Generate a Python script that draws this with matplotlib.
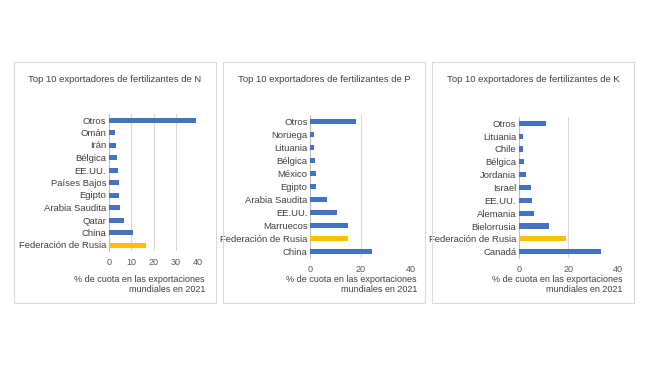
import matplotlib
matplotlib.use('Agg')
import matplotlib.pyplot as plt
from matplotlib.patches import Rectangle

# Data (bottom to top, as drawn)
n_countries = ['Federación de Rusia', 'China', 'Qatar', 'Arabia Saudita', 'Egipto',
               'Países Bajos', 'EE.UU.', 'Bélgica', 'Irán', 'Omán', 'Otros']
n_values = [16.7, 10.7, 6.6, 5.1, 4.5, 4.5, 4.2, 3.6, 3.1, 2.9, 39.2]

p_countries = ['China', 'Federación de Rusia', 'Marruecos', 'EE.UU.', 'Arabia Saudita',
               'Egipto', 'México', 'Bélgica', 'Lituania', 'Noruega', 'Otros']
p_values = [24.5, 15.0, 14.9, 10.6, 6.6, 2.3, 2.1, 2.0, 1.6, 1.5, 18.3]

k_countries = ['Canadá', 'Federación de Rusia', 'Bielorrusia', 'Alemania', 'EE.UU.',
               'Israel', 'Jordania', 'Bélgica', 'Chile', 'Lituania', 'Otros']
k_values = [33.2, 19.1, 12.2, 6.2, 5.4, 4.9, 2.7, 1.9, 1.8, 1.6, 11.1]

n_ticks = [0, 10, 20, 30, 40]
pk_ticks = [0, 20, 40]

BLUE = '#4472C4'
GOLD = '#FFC000'
GRID = '#d9d9d9'
TEXT = '#404040'

plt.rcParams['font.family'] = ['Liberation Sans', 'DejaVu Sans']

W, H = 650, 366
fig = plt.figure(figsize=(W / 100, H / 100), dpi=100)


def px_axes(x0, x1, ytop, ybot):
    return fig.add_axes([x0 / W, 1 - ybot / H, (x1 - x0) / W, (ybot - ytop) / H])


panels = [
    # box x0, x1, title, countries, values, ticks, plot area, xlabel right edge
    (14, 216, 'N', n_countries, n_values, n_ticks, (109, 198, 113.75, 251.25), 205),
    (223, 425, 'P', p_countries, p_values, pk_ticks, (310.3, 410.7, 115.2, 258.2), 417),
    (432, 634, 'K', k_countries, k_values, pk_ticks, (519, 617.7, 116.9, 258.1), 622.5),
]

for bx0, bx1, nut, countries, values, ticks, area, xr in panels:
    # panel frame
    fig.patches.append(Rectangle((bx0 / W, 1 - 303 / H), (bx1 - bx0) / W, (303 - 62) / H,
                                 transform=fig.transFigure, fill=False,
                                 edgecolor=GRID, linewidth=0.8))
    fig.text((bx0 + bx1) / 2 / W, 1 - 79 / H,
             'Top 10 exportadores de fertilizantes de ' + nut,
             ha='center', va='center', fontsize=6.8, color=TEXT)

    ax = px_axes(*area)
    colors = [GOLD if c == 'Federación de Rusia' else BLUE for c in countries]
    ax.barh(range(len(countries)), values, height=0.4, color=colors, zorder=3)
    ax.set_yticks(range(len(countries)))
    ax.set_yticklabels(countries, fontsize=6.8, color=TEXT)
    ax.set_ylim(-0.5, len(countries) - 0.5)
    ax.set_xlim(0, 40)
    ax.set_xticks(ticks)
    ax.set_xticklabels([str(t) for t in ticks], fontsize=6.5, color='#595959')
    ax.tick_params(axis='y', length=0, pad=2)
    ax.tick_params(axis='x', length=0, pad=5)
    ax.grid(axis='x', color=GRID, linewidth=0.8, zorder=0)
    for s in ['top', 'right', 'bottom']:
        ax.spines[s].set_visible(False)
    ax.spines['left'].set_color('#bfbfbf')
    ax.spines['left'].set_linewidth(0.8)
    ax.set_facecolor('none')

    fig.text(xr / W, 1 - 284.5 / H,
             '% de cuota en las exportaciones\nmundiales en 2021',
             ha='right', va='center', ma='right', fontsize=6.5, color=TEXT,
             linespacing=1.15)

fig.savefig('out.png', dpi=100)
